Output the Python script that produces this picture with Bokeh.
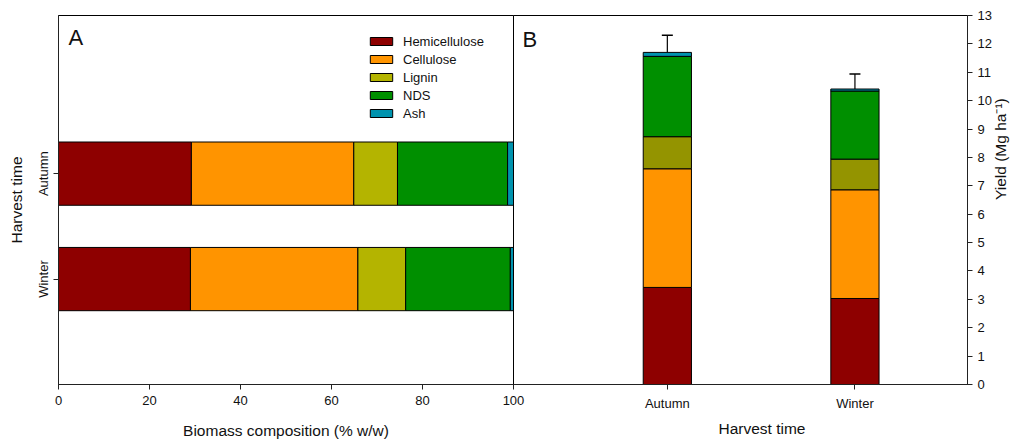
from bokeh.plotting import figure
from bokeh.layouts import row
from bokeh.models import (Range1d, LinearAxis, FixedTicker, Label, Title,
                          ColumnDataSource, Whisker, TeeHead)
from bokeh.embed import file_html
from bokeh.resources import INLINE

# ---- data -------------------------------------------------------------
seasons = ["Autumn", "Winter"]
components = ["Hemicellulose", "Cellulose", "Lignin", "NDS", "Ash"]

# biomass composition (% w/w)
comp_autumn = [29.2, 35.7, 9.6, 24.2, 1.3]
comp_winter = [29.0, 36.8, 10.5, 23.0, 0.7]

# component yields (Mg/ha)
yield_autumn = [3.42, 4.18, 1.13, 2.83, 0.14]
yield_winter = [3.03, 3.83, 1.08, 2.40, 0.07]
yield_err = [0.60, 0.53]

pct_ticks = [0, 20, 40, 60, 80, 100]
yield_ticks = list(range(0, 14))

# ---- styling ----------------------------------------------------------
FONT = "Liberation Sans"
INK = "#111111"
colors_a = ["#8e0000", "#ff9400", "#b4b400", "#008f00", "#0093ae"]
colors_b = ["#8e0000", "#ff9400", "#949400", "#008f00", "#0093ae"]

SPILL = 14  # room to the right of panel A for its last tick label


def style_axis(ax):
    ax.axis_line_color = "#222222"
    ax.major_tick_line_color = "#222222"
    ax.major_tick_out = 5
    ax.major_tick_in = 0
    ax.minor_tick_line_color = None
    ax.major_label_text_font = FONT
    ax.major_label_text_font_size = "13px"
    ax.major_label_text_color = INK
    ax.axis_label_text_font = FONT
    ax.axis_label_text_font_size = "15.5px"
    ax.axis_label_text_font_style = "normal"
    ax.axis_label_text_color = INK


letter_kw = dict(text_font=FONT, text_font_size="22px", text_color=INK,
                 text_baseline="top", text_align="left")

# ---- panel A: composition ---------------------------------------------
pa = figure(width=513 + SPILL, height=441, output_backend="svg", toolbar_location=None,
            x_range=Range1d(0, 100), y_range=Range1d(0, 3.5),
            x_axis_location=None, y_axis_location=None,
            min_border_left=58, min_border_right=SPILL,
            min_border_top=15, min_border_bottom=57)
pa.grid.grid_line_color = None
pa.outline_line_color = "black"

src_a = ColumnDataSource({"row": [2, 1],
                          **{c: [a, w] for c, a, w in zip(components, comp_autumn, comp_winter)}})
pa.hbar_stack(components, y="row", height=0.6, color=colors_a, source=src_a,
              line_color="black", line_width=1, legend_label=components)

ax = LinearAxis(ticker=FixedTicker(ticks=[1, 2]),
                major_label_overrides={1: seasons[1], 2: seasons[0]},
                major_label_orientation="vertical", axis_label="Harvest time")
style_axis(ax)
ax.major_label_standoff = 2
ax.axis_label_standoff = 9
pa.add_layout(ax, "left")

ax = LinearAxis(ticker=FixedTicker(ticks=pct_ticks), axis_label="Biomass composition (% w/w)")
style_axis(ax)
ax.major_label_standoff = 6
ax.axis_label_standoff = 14
pa.add_layout(ax, "below")

pa.add_layout(Label(x=2.2, y=3.41, text="A", **letter_kw))

lg = pa.legend[0]
lg.location = (309, 262)
lg.label_text_font = FONT
lg.label_text_font_size = "13px"
lg.label_text_color = INK
lg.glyph_width = 28
lg.glyph_height = 10
lg.label_height = 18
lg.spacing = 0
lg.padding = 0
lg.margin = 0
lg.label_standoff = 8
lg.border_line_color = None
lg.background_fill_alpha = 0

# ---- panel B: yields ----------------------------------------------------
pb = figure(width=1020 - 513, height=441, output_backend="svg", toolbar_location=None,
            x_range=Range1d(0.18, 2.6), y_range=Range1d(0, 13),
            x_axis_location=None, y_axis_location=None,
            min_border_left=0, min_border_right=50,
            min_border_top=15, min_border_bottom=57,
            margin=(0, 0, 0, -SPILL))
pb.grid.grid_line_color = None
pb.outline_line_color = "black"
pb.border_fill_alpha = 0
pb.background_fill_color = "white"

src_b = ColumnDataSource({"pos": [1, 2],
                          **{c: [a, w] for c, a, w in zip(components, yield_autumn, yield_winter)}})
pb.vbar_stack(components, x="pos", width=0.257, color=colors_b, source=src_b,
              line_color="black", line_width=1)

totals = [sum(yield_autumn), sum(yield_winter)]
err_src = ColumnDataSource({"pos": [1, 2], "lower": totals,
                            "upper": [t + e for t, e in zip(totals, yield_err)]})
pb.add_layout(Whisker(base="pos", lower="lower", upper="upper", source=err_src,
                      dimension="height", line_color="black", line_width=1.2,
                      upper_head=TeeHead(size=11, line_color="black", line_width=1.5),
                      lower_head=None))

ax = LinearAxis(ticker=FixedTicker(ticks=[1, 2]),
                major_label_overrides={1: seasons[0], 2: seasons[1]})
style_axis(ax)
ax.major_label_standoff = 6
pb.add_layout(ax, "below")
pb.add_layout(Title(text="Harvest time", align="left", offset=205, standoff=9,
                    text_font=FONT, text_font_size="15.5px", text_font_style="normal",
                    text_color=INK), "below")

ax = LinearAxis(ticker=FixedTicker(ticks=yield_ticks), axis_label="Yield (Mg ha\u207b\u00b9)")
style_axis(ax)
ax.major_label_standoff = 5
ax.axis_label_standoff = 6
ax.axis_label_orientation = 1.5707963
pb.add_layout(ax, "right")

pb.add_layout(Label(x=0.228, y=12.6, text="B", **letter_kw))

open("out.html", "w").write(file_html(row(pa, pb), INLINE))
